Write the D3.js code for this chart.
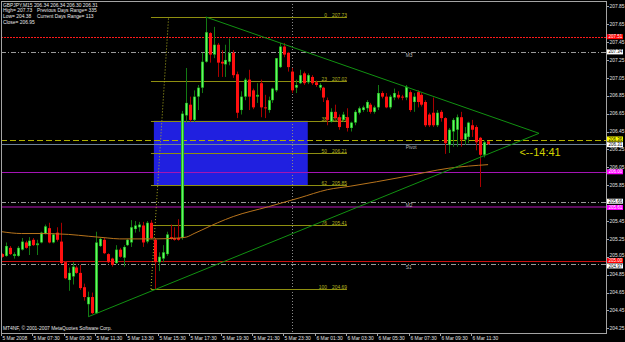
<!DOCTYPE html>
<html><head><meta charset="utf-8">
<script src="https://cdn.jsdelivr.net/npm/d3@7"></script>
<style>html,body{margin:0;padding:0;background:#000;}svg{display:block;}</style>
</head><body>
<script>
// ---------- DATA ----------
const headerLines = ["GBPJPY,M15  206.34 206.34 206.30 206.31", "High= 207.73", "Low= 204.38", "Close= 206.95"];
const headerRight = ["Previous Days Range= 335", "Current Days Range= 113"];
// OHLC of each M15 bar (index 0 = 5 Mar 05:30)
const candles = [
[205.08,205.09,205.04,205.05],[205.06,205.21,205.05,205.17],[205.15,205.17,205.07,205.08],[205.06,205.10,205.03,205.08],
[205.06,205.17,205.05,205.15],[205.13,205.26,205.12,205.22],[205.21,205.23,205.14,205.15],[205.17,205.27,205.07,205.23],
[205.24,205.26,205.17,205.18],[205.18,205.24,205.07,205.20],[205.21,205.33,205.20,205.32],[205.31,205.41,205.30,205.39],
[205.37,205.43,205.20,205.21],[205.21,205.31,205.20,205.30],[205.32,205.38,205.22,205.24],[205.22,205.43,204.97,204.98],
[204.99,205.00,204.80,204.81],[204.79,204.93,204.67,204.87],[204.83,204.99,204.74,204.94],[204.93,204.95,204.86,204.87],
[204.87,204.96,204.68,204.70],[204.71,204.75,204.56,204.60],[204.52,204.66,204.38,204.60],[204.60,204.65,204.41,204.42],
[204.42,205.33,204.41,205.21],[205.17,205.26,205.16,205.25],[205.24,205.26,205.08,205.09],[205.08,205.09,204.98,204.99],
[205.03,205.04,204.94,204.96],[204.98,205.18,204.97,205.13],[205.13,205.15,205.04,205.05],[205.04,205.18,204.94,205.16],
[205.18,205.25,205.17,205.24],[205.21,205.46,205.16,205.38],[205.36,205.45,205.32,205.40],[205.38,205.44,205.33,205.41],
[205.40,205.44,205.16,205.21],[205.22,205.45,205.20,205.43],[205.43,205.46,205.25,205.26],[205.24,205.26,204.69,204.99],
[204.99,205.10,204.89,205.05],[205.03,205.18,204.99,205.10],[205.08,205.33,205.06,205.30],[205.27,205.41,205.24,205.25],
[205.26,205.38,205.23,205.24],[205.26,205.47,205.23,205.24],[205.26,206.68,205.24,206.65],[206.63,207.16,206.55,206.77],
[206.75,206.84,206.56,206.58],[206.58,206.91,206.56,206.84],[206.84,206.97,206.69,206.94],[206.94,207.33,206.88,207.23],
[207.23,207.73,207.22,207.56],[207.55,207.56,207.22,207.31],[207.31,207.62,207.27,207.42],[207.42,207.44,207.06,207.22],
[207.23,207.36,207.06,207.21],[207.20,207.42,207.06,207.25],[207.23,207.49,207.19,207.33],[207.33,207.36,207.05,207.08],
[207.09,207.12,206.60,206.66],[206.69,206.90,206.64,206.84],[206.84,207.05,206.80,207.03],[207.03,207.14,206.69,206.84],
[206.91,206.93,206.70,206.72],[206.84,206.99,206.77,206.86],[206.99,207.03,206.61,206.72],[206.72,206.86,206.60,206.71],
[206.69,206.84,206.66,206.80],[206.80,206.94,206.77,206.93],[206.91,207.27,206.89,207.27],[207.17,207.44,207.16,207.40],
[207.40,207.44,207.28,207.31],[207.33,207.34,207.12,207.17],[207.12,207.16,206.88,206.91],[206.94,207.03,206.88,206.97],
[206.99,207.14,206.98,207.08],[207.10,207.12,206.97,206.99],[207.00,207.10,206.98,207.08],[207.06,207.08,206.97,206.99],
[207.00,207.02,206.95,206.97],[206.94,206.99,206.91,206.97],[206.94,206.95,206.78,206.83],[206.80,206.83,206.52,206.58],
[206.56,206.71,206.55,206.67],[206.67,206.75,206.58,206.60],[206.61,206.64,206.47,206.50],[206.58,206.67,206.56,206.64],
[206.61,206.71,206.45,206.49],[206.49,206.56,206.45,206.55],[206.55,206.69,206.52,206.67],[206.66,206.73,206.64,206.71],
[206.69,206.74,206.67,206.72],[206.71,206.80,206.67,206.78],[206.75,206.77,206.65,206.67],[206.67,206.74,206.65,206.72],
[206.72,206.97,206.69,206.88],[206.88,206.90,206.82,206.84],[206.84,206.88,206.71,206.72],[206.72,206.86,206.70,206.84],
[206.83,206.93,206.80,206.88],[206.86,206.90,206.81,206.83],[206.84,206.86,206.80,206.83],[206.83,206.97,206.80,206.95],
[206.89,206.91,206.67,206.69],[206.78,206.88,206.67,206.84],[206.89,206.91,206.72,206.78],[206.86,206.88,206.73,206.75],
[206.78,206.80,206.50,206.52],[206.64,206.66,206.50,206.52],[206.66,206.83,206.50,206.52],[206.52,206.69,206.50,206.66],
[206.67,206.69,206.56,206.60],[206.60,206.61,206.20,206.32],[206.30,206.49,206.21,206.47],[206.45,206.60,206.28,206.58],
[206.47,206.64,206.28,206.61],[206.61,206.67,206.28,206.36],[206.36,206.50,206.30,206.43],[206.39,206.56,206.32,206.55],
[206.52,206.58,206.39,206.47],[206.50,206.52,206.24,206.33],[206.38,206.39,205.83,206.19],[206.19,206.35,206.16,206.33],
[206.34,206.34,206.30,206.31]
];
// moving average readings (bar index, value)
const maBars = [0,5,10,17,22,27,30,39,45,47,49,51,55,59,68,76,83,89,102,114,124];
const maValues = [205.33,205.31,205.31,205.30,205.28,205.26,205.25,205.25,205.26,205.27,205.31,205.35,205.43,205.50,205.61,205.71,205.80,205.84,205.94,206.04,206.08];
// time axis
const timeTickBars = [0,8,16,24,32,40,48,56,64,72,80,88,96,104,112,120];
const timeTickLabels = ["5 Mar 2008","5 Mar 07:30","5 Mar 09:30","5 Mar 11:30","5 Mar 13:30","5 Mar 15:30","5 Mar 17:30","5 Mar 19:30","5 Mar 21:30","5 Mar 23:30","6 Mar 01:30","6 Mar 03:30","6 Mar 05:30","6 Mar 07:30","6 Mar 09:30","6 Mar 11:30"];
const daySeparatorBar = 74;
// price axis
const priceTicks = [207.85,207.65,207.45,207.25,207.05,206.85,206.65,206.45,206.25,206.05,205.85,205.65,205.45,205.25,205.05,204.85,204.65,204.45,204.25];
// horizontal levels
const levelValues = [207.51, 207.34, 206.36, 206.31, 206.00, 205.66, 205.61, 205.00, 204.97];
const levelLabels = ["207.51","207.34","206.36","206.31","206.00","205.66","205.61","205.00","204.97"];
const pivotNames = ["M3","Pivot","M2","S1"];
const pivotValues = [207.34, 206.31, 205.66, 204.97];
const pivotLabelBar = 103;
// fibonacci retracement
const fibNames = ["0","23","38","50","62","76","100"];
const fibValues = [207.73, 207.02, 206.57, 206.21, 205.85, 205.41, 204.69];
const fibBars = [38, 88];
const fibDiagonal = [[38, 204.69],[42.5, 207.73]];
// rectangle (bars, prices)
const zoneBars = [39, 78];
const zoneValues = [206.57, 205.85];
// triangle trendlines
const upperTrend = [[52, 207.73],[137, 206.43]];
const lowerTrend = [[22, 204.38],[137, 206.43]];
const timerText = "<--14:41";
const copyright = "MT4NF, \u00A9 2001-2007 MetaQuotes Software Corp.";

// ---------- DRAW ----------
const W = 625, H = 342;
const L = 1, R = 606, T = 1, B = 333;
const x = d3.scaleLinear().domain([0, 150]).range([2, 2 + 3.92 * 150]);
const y = d3.scaleLinear().domain([207.73, 204.69]).range([17, 289]);
const FONT = "'Liberation Sans', Arial, sans-serif";
const FS = 4.9;

const svg = d3.select("body").append("svg").attr("width", W).attr("height", H)
  .style("background", "#000");
svg.append("defs").append("clipPath").attr("id", "clip")
  .append("rect").attr("x", L).attr("y", T).attr("width", R - L).attr("height", B - T);
const g = svg.append("g").attr("clip-path", "url(#clip)");

// blue zone
g.append("rect")
  .attr("x", x(zoneBars[0]) - 1).attr("y", y(zoneValues[0]))
  .attr("width", x(zoneBars[1]) - x(zoneBars[0]) + 1)
  .attr("height", y(zoneValues[1]) - y(zoneValues[0]))
  .attr("fill", "#2020e0");

// day separator
g.append("line").attr("x1", Math.round(x(daySeparatorBar)) + 0.5).attr("x2", Math.round(x(daySeparatorBar)) + 0.5)
  .attr("y1", T).attr("y2", B).attr("stroke", "#8a8a8a").attr("stroke-dasharray", "1,2");

// horizontal levels
const levelStyles = [
  {c: "#ff1a1a", d: "2,1", w: 1, bg: "#ff0000", tc: "#fff", off: 0},
  {c: "#9a9a9a", d: "5,2,1,2", w: 1, bg: "#ffffff", tc: "#000", off: 0},
  {c: "#b0b000", d: "6,3", w: 1, bg: "#ffff00", tc: "#000", off: -0.6},
  {c: "#6f8296", d: null, w: 1, bg: "#ffffff", tc: "#000", off: 0.6},
  {c: "#a414b4", d: null, w: 1, bg: "#ff00ff", tc: "#fff", off: 0},
  {c: "#9a9a9a", d: "5,2,1,2", w: 1, bg: "#ffffff", tc: "#000", off: -1},
  {c: "#5e0c5e", d: null, w: 2, bg: "#ff00ff", tc: "#fff", off: 0.8},
  {c: "#cc1111", d: null, w: 1, bg: "#ff0000", tc: "#fff", off: -0.7},
  {c: "#9a9a9a", d: "5,2,1,2", w: 1, bg: "#ffffff", tc: "#000", off: 2}
];
levelValues.forEach((v, i) => {
  const s = levelStyles[i];
  const yy = Math.round(y(v)) + (s.w === 1 ? 0.5 : 0);
  const ln = g.append("line").attr("x1", L).attr("x2", R).attr("y1", yy).attr("y2", yy)
    .attr("stroke", s.c).attr("stroke-width", s.w);
  if (s.d) ln.attr("stroke-dasharray", s.d);
});
// pivot names
pivotValues.forEach((v, i) => {
  g.append("text").attr("x", x(pivotLabelBar)).attr("y", y(v) + 5.2)
    .attr("fill", "#b8b8b8").attr("font-family", FONT).attr("font-size", FS).text(pivotNames[i]);
});

// fibonacci
fibValues.forEach((v, i) => {
  const yy = Math.round(y(v)) + 0.5;
  g.append("line").attr("x1", x(fibBars[0])).attr("x2", x(fibBars[1])).attr("y1", yy).attr("y2", yy)
    .attr("stroke", "#8f8f10").attr("stroke-width", 1);
  g.append("text").attr("x", x(fibBars[1])).attr("y", yy - 1).attr("text-anchor", "end")
    .attr("fill", "#b4b420").attr("font-family", FONT).attr("font-size", FS).text(v.toFixed(2));
  g.append("text").attr("x", x(fibBars[1]) - 20).attr("y", yy - 1).attr("text-anchor", "end")
    .attr("fill", "#b4b420").attr("font-family", FONT).attr("font-size", FS).text(fibNames[i]);
});
g.append("line")
  .attr("x1", x(fibDiagonal[0][0])).attr("y1", y(fibDiagonal[0][1]))
  .attr("x2", x(fibDiagonal[1][0])).attr("y2", y(fibDiagonal[1][1]))
  .attr("stroke", "#b0b020").attr("stroke-dasharray", "1,2");

// candles
const cg = g.append("g");
candles.forEach((d, i) => {
  const [o, h, l, c] = d;
  const bull = c >= o;
  const xc = Math.round(x(i));
  cg.append("line").attr("x1", xc + 0.5).attr("x2", xc + 0.5).attr("y1", y(h)).attr("y2", y(l))
    .attr("stroke", bull ? "#137a13" : "#a80000").attr("stroke-width", 1);
  const top = Math.min(y(o), y(c)), bh = Math.max(1, Math.abs(y(o) - y(c)));
  cg.append("rect").attr("x", xc - 1).attr("y", top).attr("width", 3).attr("height", bh)
    .attr("fill", bull ? "#22bb22" : "#ff1010");
  if (bull && bh > 2) {
    cg.append("rect").attr("x", xc).attr("y", top + 0.5).attr("width", 1).attr("height", bh - 1)
      .attr("fill", "#6cf06c");
  }
});

// moving average
g.append("path").datum(maBars.map((b, i) => [b, maValues[i]]))
  .attr("d", d3.line().x(d => x(d[0])).y(d => y(d[1])).curve(d3.curveMonotoneX))
  .attr("fill", "none").attr("stroke", "#b8741c").attr("stroke-width", 1);

// trendlines
[upperTrend, lowerTrend].forEach(t => {
  g.append("line").attr("x1", x(t[0][0])).attr("y1", y(t[0][1]))
    .attr("x2", x(t[1][0])).attr("y2", y(t[1][1]))
    .attr("stroke", "#119111").attr("stroke-width", 1);
});

// timer text
svg.append("text").attr("x", x(132)).attr("y", y(206.20) + 2).attr("fill", "#d2d200")
  .attr("font-family", FONT).attr("font-size", 11).text(timerText);

// header
headerLines.forEach((t, i) => {
  svg.append("text").attr("x", 3).attr("y", 6.5 + i * 5.8).attr("fill", "#e8e8e8")
    .attr("font-family", FONT).attr("font-size", FS).text(t);
});
headerRight.forEach((t, i) => {
  svg.append("text").attr("x", 37).attr("y", 6.5 + (i + 1) * 5.8).attr("fill", "#e8e8e8")
    .attr("font-family", FONT).attr("font-size", FS).text(t);
});
svg.append("text").attr("x", 3).attr("y", 330).attr("fill", "#e8e8e8")
  .attr("font-family", FONT).attr("font-size", FS).text(copyright);

// frame
svg.append("rect").attr("x", L + 0.5).attr("y", T + 0.5).attr("width", R - L).attr("height", B - T)
  .attr("fill", "none").attr("stroke", "#a4a4a4").attr("stroke-width", 1);

// price axis (labels hidden where a level box covers them)
const boxCenters = levelValues.map((v, i) => y(v) + levelStyles[i].off);
priceTicks.forEach(p => {
  const yy = Math.round(y(p)) + 0.5;
  svg.append("line").attr("x1", R).attr("x2", R + 3).attr("y1", yy).attr("y2", yy).attr("stroke", "#a4a4a4");
  const ty = y(p) + 1.7 - (Math.abs(p - 205.05) < 0.001 ? 1 : 0);
  const covered = boxCenters.some(c => Math.abs(c - (ty - 1.7)) < 3.8);
  if (!covered) {
    svg.append("text").attr("x", R + 3.5).attr("y", ty).attr("fill", "#e0e0e0")
      .attr("font-family", FONT).attr("font-size", FS).text(p.toFixed(2));
  }
});
levelValues.forEach((v, i) => {
  const cy = boxCenters[i];
  const s = levelStyles[i];
  svg.append("rect").attr("x", R + 1).attr("y", cy - 2.5).attr("width", 16).attr("height", 5).attr("fill", s.bg);
  svg.append("text").attr("x", R + 2.5).attr("y", cy + 1.6).attr("fill", s.tc)
    .attr("font-family", FONT).attr("font-size", 4.5).text(levelLabels[i]);
});

// time axis
timeTickBars.forEach((b, i) => {
  const xx = Math.round(x(b)) - 0.5;
  svg.append("line").attr("x1", xx).attr("x2", xx).attr("y1", B).attr("y2", B + 3).attr("stroke", "#a4a4a4");
  svg.append("text").attr("x", xx + 1).attr("y", 339.5).attr("fill", "#e0e0e0")
    .attr("font-family", FONT).attr("font-size", FS).text(timeTickLabels[i]);
});
</script>
</body></html>
